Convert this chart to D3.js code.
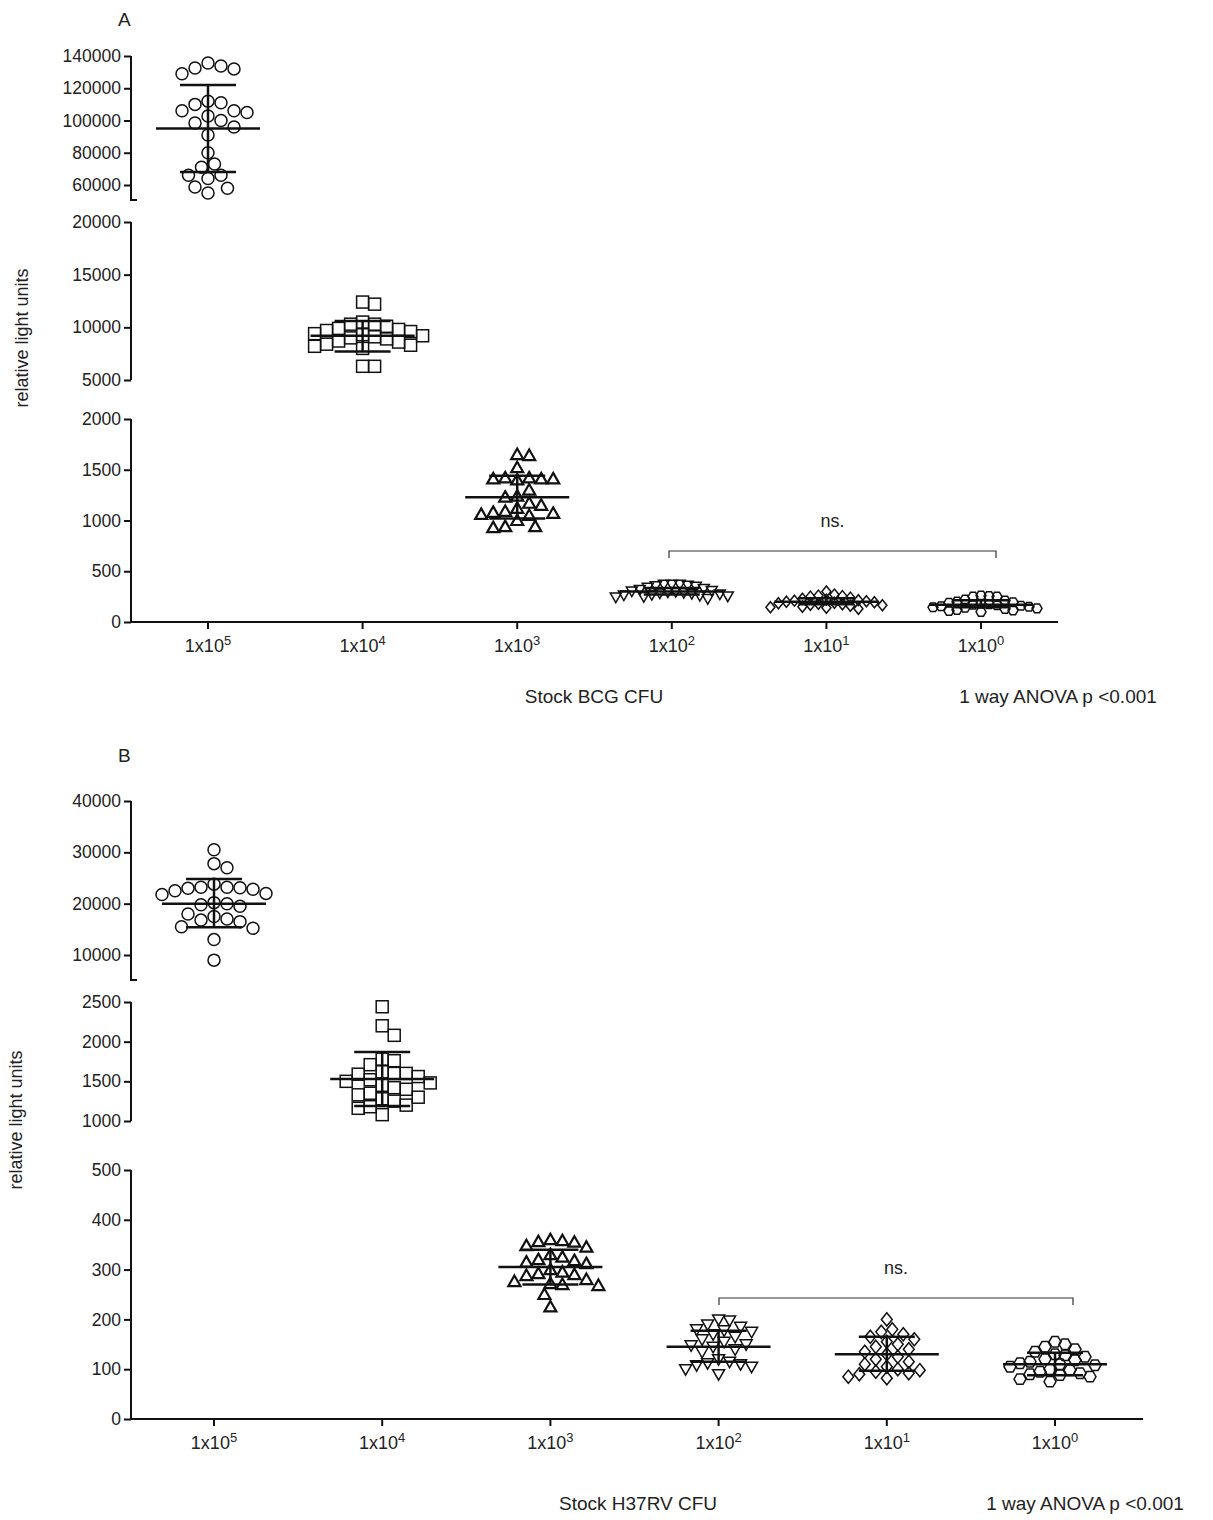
<!DOCTYPE html>
<html>
<head>
<meta charset="utf-8">
<script src="https://cdn.jsdelivr.net/npm/d3@7"></script>
<style>
  body { margin: 0; background: #fff; }
  text { font-family: "Liberation Sans", Arial, sans-serif; fill: #222; }
</style>
</head>
<body>
<script>
// categories, shared by both panels
const categories = ["1x10^5", "1x10^4", "1x10^3", "1x10^2", "1x10^1", "1x10^0"];
const shapes = ["circle", "square", "triangle", "down", "diamond", "hexagon"];

// panel A values (relative light units)
const bcgValues = [
  [135700,133800,132600,132000,129000,112000,111000,110000,106000,106000,105000,102800,100000,98500,96000,91000,80000,73000,71000,66000,66000,64000,58800,58000,55000],
  [12400,12200,10500,10300,10300,10100,9900,9800,9700,9600,9400,9300,9200,9100,9000,8900,8700,8600,8400,8300,8200,8000,6300,6300],
  [1650,1640,1520,1420,1410,1410,1400,1420,1410,1300,1240,1230,1170,1150,1120,1090,1070,1080,1060,1050,1000,940,930,940],
  [370,370,370,360,355,350,340,330,320,310,305,300,295,290,285,280,275,270,265,260,255,250,245,230],
  [300,270,260,255,250,240,230,220,215,210,205,200,195,190,185,180,175,170,165,160,150,145,140,130],
  [260,255,250,250,220,210,200,195,190,180,175,170,165,160,155,150,145,140,135,130,120,115,110,100]
];
const bcgMean = [95000, 9200, 1230, 300, 200, 170];
const bcgSdHi = [122000, 10600, 1440, 335, 235, 215];
const bcgSdLo = [68000, 7700, 1020, 270, 175, 145];

// panel B values
const h37Values = [
  [30500,27800,27000,23800,23200,23000,22800,23200,23100,22500,22000,21800,20200,20000,19800,19500,18000,17500,17000,16800,16500,15500,15200,13000,9000],
  [2440,2200,2080,1780,1760,1710,1620,1600,1600,1590,1560,1520,1500,1480,1450,1420,1400,1350,1330,1300,1280,1250,1200,1180,1160,1080],
  [360,358,356,355,348,345,330,325,320,318,315,312,300,295,292,290,288,280,276,272,270,268,250,225],
  [200,198,190,185,180,178,175,170,165,160,155,150,148,145,140,135,120,115,112,110,108,105,100,90],
  [200,180,175,170,165,160,155,150,145,140,135,130,125,120,115,110,105,100,98,95,92,90,85,82],
  [155,150,145,140,135,130,128,125,120,118,115,112,110,108,105,100,98,95,92,90,88,85,80,75]
];
const h37Mean = [20000, 1530, 305, 145, 130, 110];
const h37SdHi = [24800, 1870, 340, 177, 165, 133];
const h37SdLo = [15400, 1190, 270, 115, 97, 88];

const svg = d3.select("body").append("svg").attr("width", 1213).attr("height", 1520);

function marker(g, shape, x, y, s) {
  const r = s / 2;
  let el;
  if (shape === "circle") {
    el = g.append("circle").attr("cx", x).attr("cy", y).attr("r", r);
  } else if (shape === "square") {
    el = g.append("rect").attr("x", x - r).attr("y", y - r).attr("width", s).attr("height", s);
  } else {
    let pts;
    if (shape === "triangle") pts = [[0,-r],[r,r*0.75],[-r,r*0.75]];
    else if (shape === "down") pts = [[0,r],[r,-r*0.75],[-r,-r*0.75]];
    else if (shape === "diamond") pts = [[0,-r*1.1],[r*0.9,0],[0,r*1.1],[-r*0.9,0]];
    else pts = d3.range(6).map(i => [r*Math.cos(i*Math.PI/3), r*Math.sin(i*Math.PI/3)]);
    el = g.append("polygon").attr("points", pts.map(p => (x+p[0]) + "," + (y+p[1])).join(" "));
  }
  el.attr("fill", "none").attr("stroke", "#111")
    .attr("stroke-width", shape === "triangle" ? 2.2 : 1.5);
}

// simple beeswarm: place sorted points at the nearest free horizontal offset
function swarm(ys, d) {
  const placed = [];
  const order = ys.map((y, i) => i).sort((a, b) => ys[a] - ys[b]);
  const off = new Array(ys.length);
  order.forEach(i => {
    const y = ys[i];
    for (let k = 0; k < 200; k++) {
      const dx = (k % 2 ? 1 : -1) * Math.ceil(k / 2) * d / 2;
      const hit = placed.some(p => (p.x - dx) ** 2 + (p.y - y) ** 2 < d * d);
      if (!hit) { off[i] = dx; placed.push({ x: dx, y }); break; }
    }
  });
  return off;
}

function supLabel(g, x, y, str, size) {
  const [base, exp] = str.split("^");
  const t = g.append("text").attr("x", x).attr("y", y).attr("text-anchor", "middle")
    .style("font-size", size + "px");
  t.append("tspan").text(base);
  t.append("tspan").attr("dy", -7).style("font-size", (size * 0.72) + "px").text(exp);
}

function panel(cfg) {
  const g = svg.append("g");
  const x = d3.scalePoint().domain(categories).range(cfg.xRange);
  const segs = cfg.segs.map(s => ({
    ...s, scale: d3.scaleLinear().domain(s.domain).range(s.range)
  }));
  const yOf = v => {
    const s = segs.find(s => v >= s.domain[0] && v <= s.domain[1]) || segs[0];
    return s.scale(v);
  };

  // y axis segments
  segs.forEach(s => {
    const ag = g.append("g").attr("transform", `translate(${cfg.axisX},0)`)
      .call(d3.axisLeft(s.scale).tickValues(d3.range(s.domain[0], s.domain[1] + 1, s.step))
        .tickSize(7).tickSizeOuter(0).tickFormat(d3.format("d")));
    ag.select(".domain").remove();
    ag.selectAll("line").attr("stroke", "#111").attr("stroke-width", 2);
    ag.selectAll("text").style("font-size", "17.5px").attr("fill", "#222")
      .style("font-family", "Liberation Sans, Arial, sans-serif");
    g.append("line").attr("x1", cfg.axisX).attr("x2", cfg.axisX)
      .attr("y1", s.line[0]).attr("y2", s.line[1]).attr("stroke", "#111").attr("stroke-width", 2);
    if (s.cap) g.append("line").attr("x1", cfg.axisX - 1).attr("x2", cfg.axisX + 6)
      .attr("y1", s.line[0]).attr("y2", s.line[0]).attr("stroke", "#111").attr("stroke-width", 2);
  });

  // x axis
  const y0 = segs[2].scale(0);
  g.append("line").attr("x1", cfg.axisX).attr("x2", cfg.xEnd).attr("y1", y0).attr("y2", y0)
    .attr("stroke", "#111").attr("stroke-width", 2);
  categories.forEach(c => {
    g.append("line").attr("x1", x(c)).attr("x2", x(c)).attr("y1", y0).attr("y2", y0 + 7)
      .attr("stroke", "#111").attr("stroke-width", 2);
    supLabel(g, x(c), y0 + 30, c, 18);
  });

  // points, mean and SD
  cfg.values.forEach((vals, i) => {
    const cx = x(categories[i]);
    const ys = vals.map(yOf);
    const offs = swarm(ys, cfg.spacing[i]);
    vals.forEach((v, j) => marker(g, shapes[i], cx + offs[j], ys[j], cfg.size[i]));
    const m = yOf(cfg.mean[i]), hi = yOf(cfg.hi[i]), lo = yOf(cfg.lo[i]);
    const line = (x1, x2, y1, y2) => g.append("line").attr("x1", x1).attr("x2", x2)
      .attr("y1", y1).attr("y2", y2).attr("stroke", "#111").attr("stroke-width", 2.5);
    line(cx - 52, cx + 52, m, m);
    line(cx, cx, hi, lo);
    line(cx - 28, cx + 28, hi, hi);
    line(cx - 28, cx + 28, lo, lo);
  });

  // ns bracket
  const b = cfg.bracket;
  g.append("path").attr("d", `M${b.x1},${b.y + 7}V${b.y}H${b.x2}V${b.y + 7}`)
    .attr("fill", "none").attr("stroke", "#333").attr("stroke-width", 1.2);
  g.append("text").attr("x", (b.x1 + b.x2) / 2).attr("y", b.y - 24).attr("text-anchor", "middle")
    .style("font-size", "18px").text("ns.");

  g.append("text").attr("x", cfg.letter[0]).attr("y", cfg.letter[1]).style("font-size", "19px").text(cfg.name);
  g.append("text").attr("transform", `translate(${cfg.ylab[0]},${cfg.ylab[1]}) rotate(-90)`)
    .attr("text-anchor", "middle").style("font-size", "18px").text("relative light units");
  g.append("text").attr("x", cfg.xlab[0]).attr("y", cfg.xlab[1]).attr("text-anchor", "middle")
    .style("font-size", "19px").text(cfg.xTitle);
  g.append("text").attr("x", cfg.anova[0]).attr("y", cfg.anova[1]).attr("text-anchor", "middle")
    .style("font-size", "19px").text("1 way ANOVA p <0.001");
}

panel({
  name: "A", letter: [118, 26], ylab: [28, 338], xlab: [594, 703], anova: [1058, 703],
  xTitle: "Stock BCG CFU", axisX: 131, xRange: [208, 981], xEnd: 1058,
  segs: [
    { domain: [60000, 140000], range: [185, 56], step: 20000, line: [200, 56], cap: true },
    { domain: [5000, 20000], range: [380, 222], step: 5000, line: [380, 222] },
    { domain: [0, 2000], range: [622, 419], step: 500, line: [622, 419] }
  ],
  values: bcgValues, mean: bcgMean, hi: bcgSdHi, lo: bcgSdLo,
  spacing: [13, 12, 12, 8, 8, 8], size: [12, 12, 12, 11, 10, 10],
  bracket: { x1: 669, x2: 996, y: 551 }
});

panel({
  name: "B", letter: [118, 762], ylab: [22, 1120], xlab: [638, 1510], anova: [1085, 1510],
  xTitle: "Stock H37RV CFU", axisX: 131, xRange: [214, 1055], xEnd: 1143,
  segs: [
    { domain: [10000, 40000], range: [955, 801], step: 10000, line: [980, 801], cap: true },
    { domain: [1000, 2500], range: [1121, 1002], step: 500, line: [1121, 1002] },
    { domain: [0, 500], range: [1419, 1170], step: 100, line: [1419, 1170] }
  ],
  values: h37Values, mean: h37Mean, hi: h37SdHi, lo: h37SdLo,
  spacing: [13, 12, 12, 11, 11, 10], size: [12, 12, 12, 12, 12, 12],
  bracket: { x1: 719, x2: 1073, y: 1298 }
});
</script>
</body>
</html>
